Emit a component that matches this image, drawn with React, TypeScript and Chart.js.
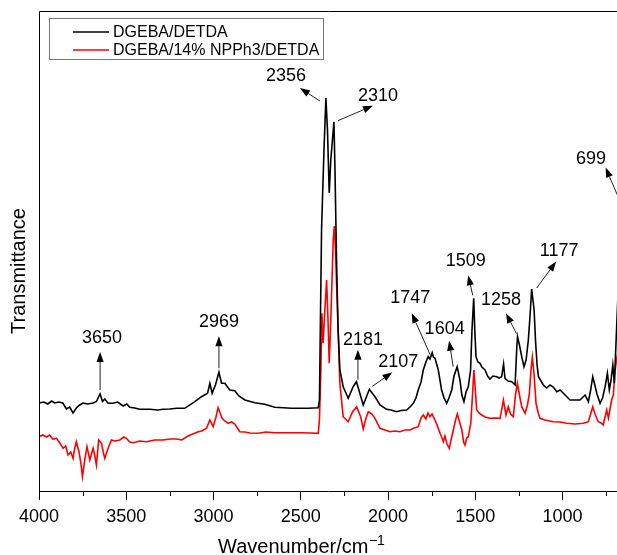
import React, { useEffect, useRef } from "react";
import { Chart, registerables } from "chart.js";

Chart.register(...registerables);

// FTIR spectra: wavenumber (cm-1) against transmittance (arbitrary offset units)
const dgebaWavenumbers = [
  4000, 3973, 3950, 3927, 3910, 3887, 3864, 3843, 3824, 3805, 3786, 3767, 3748, 3721, 3690, 3671,
  3650, 3636, 3623, 3604, 3576, 3549, 3518, 3497, 3480, 3451, 3423, 3365, 3319, 3289, 3250, 3212,
  3165, 3107, 3069, 3034, 3021, 3008, 2989, 2969, 2954, 2935, 2907, 2878, 2855, 2820, 2763, 2706,
  2649, 2553, 2458, 2400, 2393, 2381, 2367, 2356, 2347, 2337, 2328, 2310, 2304, 2295, 2286, 2276,
  2257, 2228, 2200, 2181, 2142, 2107, 2075, 2046, 2008, 1983, 1951, 1926, 1893, 1874, 1855, 1840,
  1827, 1811, 1798, 1783, 1770, 1760, 1747, 1740, 1731, 1712, 1693, 1679, 1664, 1651, 1635, 1622,
  1604, 1588, 1577, 1565, 1553, 1540, 1527, 1519, 1509, 1503, 1496, 1485, 1473, 1462, 1444, 1430,
  1416, 1399, 1377, 1364, 1349, 1338, 1330, 1312, 1291, 1272, 1262, 1258, 1247, 1234, 1221, 1209,
  1196, 1186, 1177, 1163, 1155, 1146, 1138, 1110, 1091, 1072, 1053, 1033, 1014, 995, 974, 957,
  928, 900, 881, 871, 852, 839, 827, 815, 804, 785, 771, 756, 743, 732, 722, 712,
  703, 688, 671,
];
const dgebaTransmittance = [
  88, 89, 87, 90, 88, 89, 88, 82, 84, 78, 83, 86, 88, 87, 88, 89.5,
  97, 89.5, 92, 87.7, 87.7, 89, 85, 87, 83.7, 83, 81.7, 81.7, 81, 81.7, 82, 82.7,
  82.7, 89.3, 94.3, 97.7, 107.7, 97.7, 106, 118.7, 107.7, 107.7, 101, 100.3, 95, 91, 88.3, 86.7,
  83.7, 82.7, 82.7, 83.3, 91, 261, 341, 393, 361, 298, 331, 369.3, 321, 231, 161, 121,
  104.3, 92.7, 104.3, 109.3, 86, 101.7, 94.3, 86, 81.7, 81, 79.3, 80.5, 81, 84, 87.7, 93,
  101, 109, 121, 129, 134.3, 132, 138.3, 134, 132.7, 121, 101, 93, 87.7, 93, 101, 115,
  124.3, 111, 96, 89.3, 99, 104.3, 121, 161, 192.7, 161, 134.3, 129, 127.7, 124, 121, 115,
  112, 115, 114.3, 113, 114.3, 127, 112.7, 110, 109.3, 106, 144.3, 154.3, 146, 134.3, 124.3, 131,
  151, 176, 202, 181, 151, 126, 114.3, 106, 103, 106, 104, 99.3, 101, 97.7, 94, 91,
  91, 91, 94.3, 96, 89.3, 101, 114.3, 106, 97.7, 87.7, 93, 104.3, 117.7, 101, 111, 126,
  107.7, 172.7, 241,
];

const npph3Wavenumbers = [
  4000, 3979, 3956, 3939, 3921, 3900, 3881, 3862, 3847, 3834, 3818, 3805, 3795, 3786, 3771, 3761,
  3751, 3738, 3725, 3709, 3690, 3681, 3671, 3658, 3642, 3632, 3623, 3604, 3585, 3566, 3537, 3514,
  3499, 3480, 3461, 3423, 3384, 3337, 3289, 3250, 3212, 3182, 3146, 3119, 3088, 3067, 3040, 3021,
  3002, 2987, 2974, 2964, 2951, 2935, 2916, 2895, 2878, 2849, 2820, 2792, 2744, 2700, 2649, 2591,
  2495, 2448, 2400, 2393, 2385, 2379, 2372, 2362, 2352, 2344, 2337, 2328, 2314, 2308, 2301, 2292,
  2286, 2276, 2257, 2228, 2203, 2180, 2157, 2142, 2126, 2113, 2092, 2075, 2046, 2018, 1989, 1960,
  1932, 1903, 1874, 1851, 1827, 1811, 1798, 1783, 1771, 1760, 1748, 1731, 1717, 1702, 1691, 1683,
  1674, 1662, 1649, 1639, 1626, 1613, 1603, 1590, 1577, 1567, 1559, 1549, 1540, 1526, 1516, 1508,
  1499, 1492, 1479, 1463, 1444, 1416, 1387, 1358, 1339, 1324, 1311, 1298, 1282, 1270, 1259, 1247,
  1234, 1215, 1201, 1190, 1181, 1173, 1163, 1152, 1139, 1129, 1101, 1053, 1014, 976, 928, 881,
  852, 839, 827, 814, 795, 780, 767, 747, 737, 729, 719, 709, 700, 688, 671,
];
const npph3Transmittance = [
  54.3, 56, 54, 56, 52, 52.7, 48, 42.7, 45, 36, 39, 32.7, 43, 49.3, 39.3, 29,
  14.3, 31, 44.3, 31, 42.7, 36, 26, 51, 47.7, 39, 32.7, 42.7, 51, 50, 51, 54,
  52.7, 49, 48.3, 50, 49.3, 51, 51, 52, 52, 51, 55, 57, 59.3, 60, 62.7, 71,
  64.3, 73, 83.3, 79, 72.7, 70, 67.7, 69, 67, 59.3, 59, 58, 57.7, 59, 58.3, 58.3,
  58.3, 58, 57.7, 71, 121, 177.7, 147.7, 181, 211, 171, 127.7, 171, 251, 265, 241, 191,
  161, 107.7, 74.3, 69.3, 79.3, 84.3, 74.3, 62, 73, 79.3, 77, 72.7, 62.7, 61, 59.3, 60,
  59.3, 61, 61, 63, 64.3, 73, 76, 72, 78, 74.3, 77, 71, 65, 57.7, 53, 49.3,
  55, 47, 42.7, 51, 61, 71, 77, 69, 61, 49, 46, 53, 54.3, 67.7, 96, 121,
  99, 81, 78, 76, 74, 72.7, 73, 72.7, 91, 76, 84.3, 77, 74.3, 96, 107.7, 96,
  84.3, 77.7, 86, 97.7, 121, 134, 116, 87.7, 77.7, 72.7, 71, 69.3, 69, 67.7, 67, 67.7,
  69.3, 77, 84.3, 77, 69.3, 68, 66, 81, 73, 81, 91, 96, 119.3, 134, 146,
];

const seriesNames = ["DGEBA/DETDA", "DGEBA/14% NPPh3/DETDA"];
const seriesColors = ["#000000", "#ff0000"];

// Band assignments marked on the neat resin curve
const peakLabels = ["3650", "2969", "2356", "2310", "2181", "2107", "1747", "1604", "1509", "1258", "1177", "699"];
const peakWavenumbers = [3650, 2969, 2356, 2310, 2181, 2107, 1747, 1604, 1509, 1258, 1177, 699];
const peakTransmittance = [97, 118.7, 393, 369.3, 109.3, 101.7, 138.3, 124.3, 192.7, 154.3, 202, 280];

const xMajorTicks = [4000, 3500, 3000, 2500, 2000, 1500, 1000];
const xMinorTicks = [3750, 3250, 2750, 2250, 1750, 1250, 750];
const xRange = [688, 4000];
const yRange = [0, 480];

// Callout geometry in pixels, relative to the marked point: arrow tail, arrow tip, label centre
const calloutLayout = [
  { tail: [0, -4], tip: [0, -42], text: [2, -56] },
  { tail: [0, -4], tip: [0, -36], text: [0, -50] },
  { tail: [-6, 3], tip: [-26, -10], text: [-40, -22] },
  { tail: [4, -1], tip: [39, -16], text: [44, -26] },
  { tail: [1.5, -2], tip: [1.5, -32], text: [6.5, -42] },
  { tail: [3, -3], tip: [23, -17], text: [29, -27] },
  { tail: [-2, 2], tip: [-20.5, -39.5], text: [-22, -54.5] },
  { tail: [-4, 0], tip: [-8, -26], text: [-12.5, -38] },
  { tail: [-1, -3], tip: [-5.5, -23], text: [-8, -37] },
  { tail: [-1, -3], tip: [-11.5, -23.5], text: [-16.5, -37] },
  { tail: [5, -1], tip: [24.5, -27.5], text: [27.5, -37.5] },
  { tail: [10, 2], tip: [-9.5, -43.5], text: [-24, -52] },
];

const FONT = "'Liberation Sans', Arial, Helvetica, sans-serif";

function drawArrow(ctx: CanvasRenderingContext2D, x1: number, y1: number, x2: number, y2: number) {
  const ang = Math.atan2(y2 - y1, x2 - x1);
  const len = 10;
  const half = 3.6;
  const bx = x2 - len * Math.cos(ang);
  const by = y2 - len * Math.sin(ang);
  ctx.beginPath();
  ctx.moveTo(x1, y1);
  ctx.lineTo(bx, by);
  ctx.stroke();
  ctx.beginPath();
  ctx.moveTo(x2, y2);
  ctx.lineTo(bx + half * Math.sin(ang), by - half * Math.cos(ang));
  ctx.lineTo(bx - half * Math.sin(ang), by + half * Math.cos(ang));
  ctx.closePath();
  ctx.fill();
}

const spectrumDecorations = {
  id: "spectrumDecorations",
  afterDraw(chart: any) {
    const { ctx, chartArea } = chart;
    const xs = chart.scales.x;
    const ys = chart.scales.y;
    ctx.save();

    // plot frame (top and left edges)
    ctx.strokeStyle = "#000";
    ctx.lineWidth = 1;
    ctx.beginPath();
    ctx.moveTo(chartArea.left + 0.5, chartArea.bottom);
    ctx.lineTo(chartArea.left + 0.5, chartArea.top + 0.5);
    ctx.lineTo(chartArea.right, chartArea.top + 0.5);
    ctx.stroke();

    // minor ticks on the wavenumber axis
    ctx.beginPath();
    xMinorTicks.forEach((v) => {
      const px = Math.round(xs.getPixelForValue(v)) + 0.5;
      ctx.moveTo(px, chartArea.bottom);
      ctx.lineTo(px, chartArea.bottom + 5);
    });
    ctx.stroke();

    // band callouts
    ctx.strokeStyle = "#222";
    ctx.fillStyle = "#000";
    ctx.lineWidth = 1;
    ctx.font = `18px ${FONT}`;
    ctx.textAlign = "center";
    ctx.textBaseline = "middle";
    peakWavenumbers.forEach((wn, i) => {
      const ax = xs.getPixelForValue(wn);
      const ay = ys.getPixelForValue(peakTransmittance[i]);
      const c = calloutLayout[i];
      drawArrow(ctx, ax + c.tail[0], ay + c.tail[1], ax + c.tip[0], ay + c.tip[1]);
      ctx.fillText(peakLabels[i], ax + c.text[0], ay + c.text[1]);
    });

    // legend
    const lx = chartArea.left + 10;
    const ly = chartArea.top + 7;
    ctx.fillStyle = "#fff";
    ctx.fillRect(lx + 0.5, ly + 0.5, 274, 41);
    ctx.strokeStyle = "#777";
    ctx.strokeRect(lx + 0.5, ly + 0.5, 274, 41);
    ctx.font = `16px ${FONT}`;
    ctx.textAlign = "left";
    ctx.textBaseline = "middle";
    seriesNames.forEach((name, i) => {
      const rowY = ly + 14 + i * 18;
      ctx.strokeStyle = seriesColors[i];
      ctx.lineWidth = 1.6;
      ctx.beginPath();
      ctx.moveTo(lx + 24, rowY);
      ctx.lineTo(lx + 60, rowY);
      ctx.stroke();
      ctx.fillStyle = "#000";
      ctx.fillText(name, lx + 64, rowY + 0.5);
    });

    // axis titles
    ctx.fillStyle = "#000";
    ctx.font = `20px ${FONT}`;
    ctx.textAlign = "left";
    ctx.textBaseline = "alphabetic";
    const main = "Wavenumber/cm";
    const tx = 218;
    const ty = 553;
    ctx.fillText(main, tx, ty);
    let w = ctx.measureText(main).width;
    ctx.font = `14px ${FONT}`;
    ctx.fillText("\u22121", tx + w + 0.5, ty - 8);

    ctx.save();
    ctx.translate(19, 271);
    ctx.rotate(-Math.PI / 2);
    ctx.font = `20px ${FONT}`;
    ctx.textAlign = "center";
    ctx.textBaseline = "middle";
    ctx.fillText("Transmittance", 0, 0);
    ctx.restore();

    ctx.restore();
  },
};

export default function App() {
  const canvasRef = useRef<HTMLCanvasElement | null>(null);

  useEffect(() => {
    if (!canvasRef.current) return;
    const toPoints = (xsArr: number[], ysArr: number[]) => xsArr.map((x, i) => ({ x, y: ysArr[i] }));
    const chart = new Chart(canvasRef.current, {
      type: "line",
      data: {
        datasets: [
          {
            label: seriesNames[0],
            data: toPoints(dgebaWavenumbers, dgebaTransmittance),
            borderColor: seriesColors[0],
            borderWidth: 1.6,
            pointRadius: 0,
            tension: 0,
            fill: false,
          },
          {
            label: seriesNames[1],
            data: toPoints(npph3Wavenumbers, npph3Transmittance),
            borderColor: seriesColors[1],
            borderWidth: 1.6,
            pointRadius: 0,
            tension: 0,
            fill: false,
          },
        ],
      },
      options: {
        responsive: false,
        animation: false,
        devicePixelRatio: 1,
        layout: { padding: { left: 39, top: 11, right: 0, bottom: 0 } },
        plugins: {
          legend: { display: false },
          tooltip: { enabled: false },
          title: { display: false },
        },
        events: [],
        scales: {
          x: {
            type: "linear",
            reverse: true,
            min: xRange[0],
            max: xRange[1],
            afterFit: (scale: any) => {
              scale.height = 64;
            },
            afterBuildTicks: (scale: any) => {
              scale.ticks = xMajorTicks.map((v) => ({ value: v }));
            },
            ticks: {
              autoSkip: false,
              maxRotation: 0,
              padding: 6,
              color: "#000",
              font: { family: FONT, size: 18 },
              callback: (v: any) => String(v),
            },
            grid: {
              drawOnChartArea: false,
              drawTicks: true,
              tickLength: 9,
              color: "#000",
              lineWidth: 1,
            },
            border: { display: true, color: "#000", width: 1 },
          },
          y: {
            type: "linear",
            display: false,
            min: yRange[0],
            max: yRange[1],
          },
        },
      },
      plugins: [spectrumDecorations],
    });
    return () => chart.destroy();
  }, []);

  return (
    <div style={{ position: "absolute", left: 0, top: 0, width: 617, height: 555, background: "#fff" }}>
      <canvas ref={canvasRef} width={617} height={555} style={{ display: "block" }} />
    </div>
  );
}
